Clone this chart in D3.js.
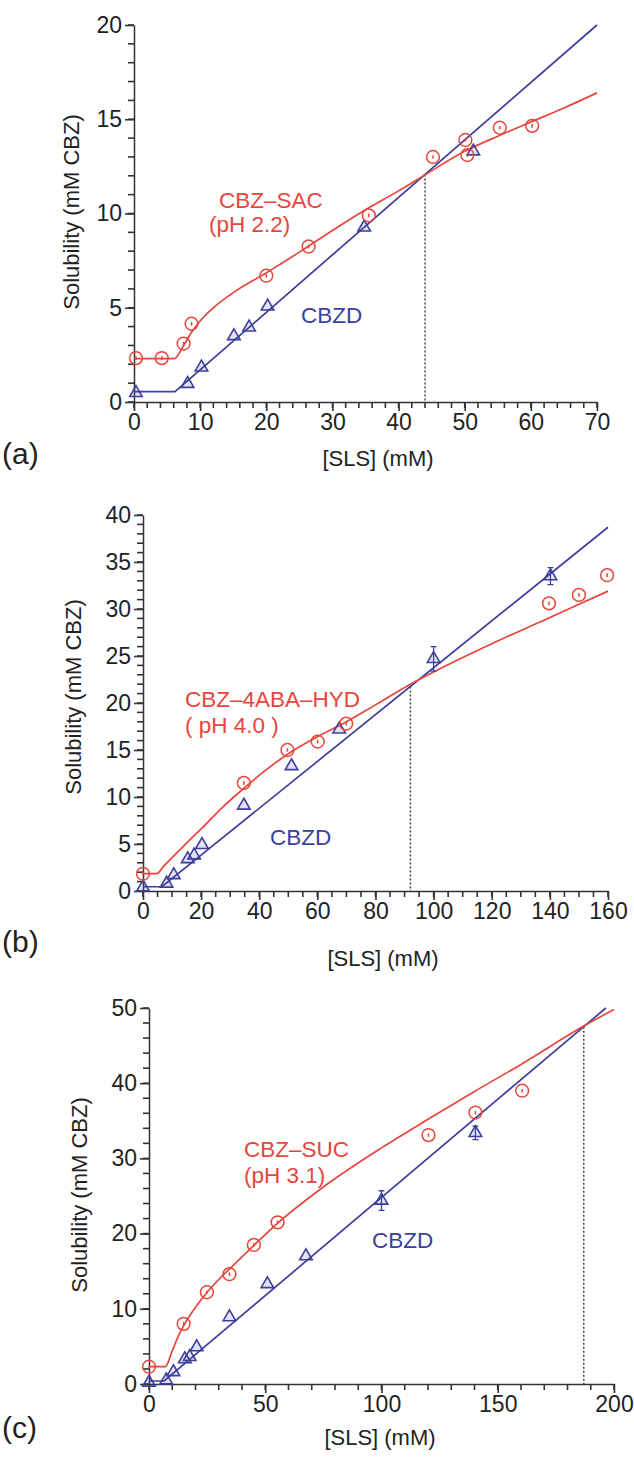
<!DOCTYPE html>
<html>
<head>
<meta charset="utf-8">
<script src="https://cdn.jsdelivr.net/npm/d3@7"></script>
<style>
  body { margin: 0; background: #fff; }
  text { font-family: "Liberation Sans", Arial, sans-serif; fill: #222; }
</style>
</head>
<body>
<div id="chart"></div>
<script>
const W = 634, H = 1457
const red = '#e8453c', blue = '#3c3f9c', axisColor = '#333'

// ---- panel (a) CBZ-SAC, pH 2.2 ----
const aRedX = [0.3, 4.2, 7.5, 8.7, 20, 26.4, 35.5, 45.2, 50.1, 50.4, 55.3, 60.2]
const aRedY = [2.33, 2.33, 3.1, 4.15, 6.7, 8.25, 9.9, 13.0, 13.9, 13.1, 14.55, 14.65]
const aBlueX = [0.3, 8.1, 10.2, 15.1, 17.4, 20.2, 34.8, 51.3]
const aBlueY = [0.48, 0.97, 1.84, 3.5, 3.96, 5.07, 9.26, 13.3]
const aRedFitX = [0, 6.1, 7.5, 8.7, 10, 12, 15, 20, 25, 30, 35, 40, 44, 50, 55, 60, 65, 70]
const aRedFitY = [2.3, 2.3, 3.0, 3.7, 4.3, 5.0, 5.8, 6.85, 7.95, 9.1, 10.2, 11.2, 12.05, 13.3, 14.1, 14.85, 15.6, 16.4]
const aBlueFitX = [0, 6.2, 70]
const aBlueFitY = [0.55, 0.55, 20]

// ---- panel (b) CBZ-4ABA-HYD, pH 4.0 ----
const bRedX = [0, 34.7, 49.7, 60.1, 69.9, 139.7, 150, 159.7]
const bRedY = [1.83, 11.5, 15.0, 15.9, 17.8, 30.6, 31.5, 33.6]
const bBlueX = [0, 8.1, 10.6, 15.4, 17.6, 20.3, 34.7, 51.1, 67.5, 100, 140.2]
const bBlueY = [0.4, 0.8, 1.7, 3.4, 3.8, 4.9, 9.1, 13.3, 17.2, 24.7, 33.5]
const bBlueErr = [0, 0, 0, 0, 0, 0, 0, 0, 0, 1.3, 0.9]
const bRedFitX = [0, 4.7, 7, 10, 15, 20, 27, 35, 42, 50, 60, 70, 80, 92, 100, 120, 140, 160]
const bRedFitY = [1.85, 1.85, 2.6, 3.55, 5.1, 6.6, 8.8, 11.0, 12.8, 14.6, 16.4, 18.0, 19.8, 22.0, 23.3, 26.3, 29.1, 31.9]
const bBlueFitX = [0, 6.5, 160]
const bBlueFitY = [0.45, 0.45, 38.7]

// ---- panel (c) CBZ-SUC, pH 3.1 ----
const cRedX = [0, 14.9, 24.9, 34.6, 45.1, 55.3, 120.2, 140.4, 160.5]
const cRedY = [2.3, 8.0, 12.2, 14.6, 18.5, 21.5, 33.1, 36.1, 39.0]
const cBlueX = [0, 7.4, 10.5, 15.4, 17.5, 20.5, 34.6, 50.9, 67.5, 100, 140.4]
const cBlueY = [0.2, 0.5, 1.6, 3.3, 3.6, 4.9, 8.9, 13.3, 17.0, 24.4, 33.4]
const cBlueErr = [0, 0, 0, 0, 0, 0, 0, 0, 0, 1.3, 0.9]
const cRedFitX = [0, 7, 10, 12.5, 15, 20, 25, 30, 35, 45, 55, 75, 100, 120, 140, 160, 187, 200]
const cRedFitY = [2.3, 2.3, 4.4, 6.3, 7.8, 10.2, 12.2, 13.9, 15.4, 18.4, 21.3, 26.2, 31.4, 35.2, 38.9, 42.5, 47.6, 49.8]
const cBlueFitX = [0, 6.5, 196.5]
const cBlueFitY = [0.4, 0.4, 50]

const xTicksA = [0, 10, 20, 30, 40, 50, 60, 70]
const yTicksA = [0, 5, 10, 15, 20]
const xTicksB = [0, 20, 40, 60, 80, 100, 120, 140, 160]
const yTicksB = [0, 5, 10, 15, 20, 25, 30, 35, 40]
const xTicksC = [0, 50, 100, 150, 200]
const yTicksC = [0, 10, 20, 30, 40, 50]

const zip = (xs, ys, es) => xs.map((x, i) => ({x: x, y: ys[i], e: es ? es[i] : 0}))

const panels = [
  {
    letter: '(a)', xDom: [0, 70], yDom: [0, 20], xr: [134, 597], yr: [402, 25],
    xTicks: xTicksA, yTicks: yTicksA, xMinor: 2, yMinor: 1, cross: 44,
    red: zip(aRedX, aRedY), blue: zip(aBlueX, aBlueY),
    redFit: zip(aRedFitX, aRedFitY), blueFit: zip(aBlueFitX, aBlueFitY),
    labels: [
      {t: 'CBZ\u2013SAC', x: 219, y: 208, c: red},
      {t: '(pH 2.2)', x: 209, y: 232, c: red},
      {t: 'CBZD', x: 301, y: 323, c: blue}
    ],
    yTitle: {x: 79, y: 212}, xTitle: {x: 378, y: 466}, letterPos: {x: 2, y: 464}
  },
  {
    letter: '(b)', xDom: [0, 160], yDom: [0, 40], xr: [143, 608], yr: [891, 515],
    xTicks: xTicksB, yTicks: yTicksB, xMinor: 5, yMinor: 1, cross: 92,
    red: zip(bRedX, bRedY), blue: zip(bBlueX, bBlueY, bBlueErr),
    redFit: zip(bRedFitX, bRedFitY), blueFit: zip(bBlueFitX, bBlueFitY),
    labels: [
      {t: 'CBZ\u20134ABA\u2013HYD', x: 185, y: 707, c: red},
      {t: '( pH 4.0 )', x: 185, y: 733, c: red},
      {t: 'CBZD', x: 270, y: 845, c: blue}
    ],
    yTitle: {x: 81, y: 697}, xTitle: {x: 383, y: 966}, letterPos: {x: 2, y: 952}
  },
  {
    letter: '(c)', xDom: [0, 200], yDom: [0, 50], xr: [149, 614], yr: [1384, 1008],
    xTicks: xTicksC, yTicks: yTicksC, xMinor: 10, yMinor: 2, cross: 187,
    red: zip(cRedX, cRedY), blue: zip(cBlueX, cBlueY, cBlueErr),
    redFit: zip(cRedFitX, cRedFitY), blueFit: zip(cBlueFitX, cBlueFitY),
    labels: [
      {t: 'CBZ\u2013SUC', x: 244, y: 1157, c: red},
      {t: '(pH 3.1)', x: 244, y: 1183, c: red},
      {t: 'CBZD', x: 372, y: 1248, c: blue}
    ],
    yTitle: {x: 87, y: 1195}, xTitle: {x: 380, y: 1445}, letterPos: {x: 2, y: 1438}
  }
]

const svg = d3.select('#chart').append('svg')
  .attr('width', W).attr('height', H)

svg.append('rect').attr('width', W).attr('height', H).attr('fill', '#fff')

const tri = d3.symbol().type(d3.symbolTriangle).size(68)

panels.forEach(function(p) {
  const x = d3.scaleLinear().domain(p.xDom).range(p.xr)
  const y = d3.scaleLinear().domain(p.yDom).range(p.yr)
  const g = svg.append('g')

  // minor ticks (drawn from the scales)
  const xMinorVals = d3.range(p.xDom[0], p.xDom[1] + 1e-9, p.xMinor)
  const yMinorVals = d3.range(p.yDom[0], p.yDom[1] + 1e-9, p.yMinor)
  g.append('g').selectAll('line').data(xMinorVals).enter().append('line')
    .attr('x1', d => x(d)).attr('x2', d => x(d))
    .attr('y1', p.yr[0]).attr('y2', p.yr[0] + 6)
    .attr('stroke', axisColor).attr('stroke-width', 1.6)
  g.append('g').selectAll('line').data(yMinorVals).enter().append('line')
    .attr('y1', d => y(d)).attr('y2', d => y(d))
    .attr('x1', p.xr[0]).attr('x2', p.xr[0] - 6)
    .attr('stroke', axisColor).attr('stroke-width', 1.6)

  // major ticks
  const xAxis = d3.axisBottom(x).tickValues(p.xTicks).tickSize(9).tickSizeOuter(0).tickPadding(3)
  const yAxis = d3.axisLeft(y).tickValues(p.yTicks).tickSize(9).tickSizeOuter(0).tickPadding(3)
  g.append('g').attr('transform', 'translate(0,' + p.yr[0] + ')').call(xAxis)
  g.append('g').attr('transform', 'translate(' + p.xr[0] + ',0)').call(yAxis)

  g.selectAll('.domain').attr('stroke', axisColor).attr('stroke-width', 1.5)
  g.selectAll('.tick line').attr('stroke', axisColor).attr('stroke-width', 1.6)
  g.selectAll('.tick text').attr('fill', '#222')
    .style('font-size', '23px').style('font-family', '"Liberation Sans", Arial, sans-serif')

  // dotted line from the crossing of the two fits down to the axis
  const bf = p.blueFit
  const crossY = d3.scaleLinear().domain([bf[1].x, bf[2].x]).range([bf[1].y, bf[2].y])(p.cross)
  g.append('line')
    .attr('x1', x(p.cross)).attr('x2', x(p.cross))
    .attr('y1', y(crossY)).attr('y2', y(0))
    .attr('stroke', '#444').attr('stroke-width', 1.5).attr('stroke-dasharray', '2,2')

  // fits
  const line = d3.line().x(d => x(d.x)).y(d => y(d.y))
  g.append('path').datum(p.blueFit)
    .attr('d', line.curve(d3.curveLinear))
    .attr('fill', 'none').attr('stroke', blue).attr('stroke-width', 1.7)
  g.append('path').datum(p.redFit)
    .attr('d', line.curve(d3.curveMonotoneX))
    .attr('fill', 'none').attr('stroke', red).attr('stroke-width', 1.7)

  // blue triangles
  const bt = g.selectAll('.tri').data(p.blue).enter().append('g')
    .attr('transform', d => 'translate(' + x(d.x) + ',' + y(d.y) + ')')
  bt.filter(d => d.e > 0).append('path')
    .attr('d', d => {
      const h = y(0) - y(d.e)
      return 'M0,' + (-h) + 'V' + h + 'M-3,' + (-h) + 'H3M-3,' + h + 'H3'
    })
    .attr('stroke', blue).attr('stroke-width', 1.3).attr('fill', 'none')
  bt.append('path').attr('d', tri)
    .attr('fill', 'rgba(60,63,156,0.15)').attr('stroke', blue).attr('stroke-width', 1.6)

  // red circles
  const rc = g.selectAll('.circ').data(p.red).enter().append('g')
    .attr('transform', d => 'translate(' + x(d.x) + ',' + y(d.y) + ')')
  rc.append('circle').attr('r', 6.4)
    .attr('fill', 'none').attr('stroke', red).attr('stroke-width', 1.5)
  rc.append('line').attr('x1', 0).attr('x2', 0).attr('y1', -1.8).attr('y2', 1.8)
    .attr('stroke', red).attr('stroke-width', 1.5)

  // annotations
  p.labels.forEach(function(l) {
    g.append('text').attr('x', l.x).attr('y', l.y).text(l.t)
      .style('fill', l.c).style('font-size', '22.5px')
  })

  // axis titles
  g.append('text')
    .attr('transform', 'translate(' + p.yTitle.x + ',' + p.yTitle.y + ') rotate(-90)')
    .attr('text-anchor', 'middle').style('font-size', '22px')
    .text('Solubility (mM CBZ)')
  g.append('text').attr('x', p.xTitle.x).attr('y', p.xTitle.y)
    .attr('text-anchor', 'middle').style('font-size', '22px')
    .text('[SLS] (mM)')
  g.append('text').attr('x', p.letterPos.x).attr('y', p.letterPos.y)
    .style('font-size', '30px')
    .text(p.letter)
})
</script>
</body>
</html>
